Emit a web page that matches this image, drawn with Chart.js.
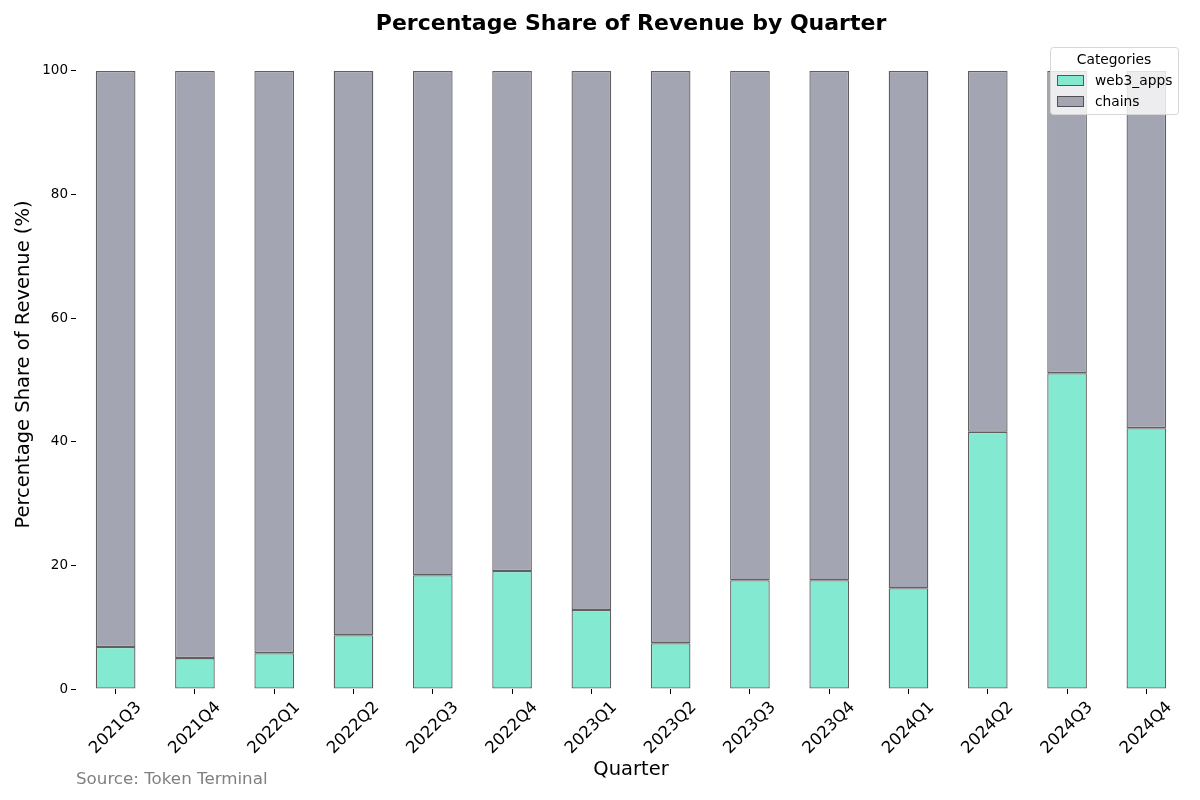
<!DOCTYPE html>
<html>
<head>
<meta charset="utf-8">
<script src="https://cdn.jsdelivr.net/npm/chart.js@4.4.1/dist/chart.umd.min.js"></script>
<style>
  html, body { margin: 0; padding: 0; background: #fff; }
  #wrap { width: 1200px; height: 800px; }
</style>
</head>
<body>
<div id="wrap"><canvas id="chart" width="1200" height="800"></canvas></div>
<script>
const quarters = ['2021Q3', '2021Q4', '2022Q1', '2022Q2', '2022Q3', '2022Q4', '2023Q1',
  '2023Q2', '2023Q3', '2023Q4', '2024Q1', '2024Q2', '2024Q3', '2024Q4'];
const web3Apps = [6.8, 5.0, 5.8, 8.7, 18.4, 19.1, 12.8, 7.4, 17.6, 17.6, 16.3, 41.6, 51.1, 42.2];
const chains = web3Apps.map(v => +(100 - v).toFixed(1)); // shares add up to 100
const yTicks = [0, 20, 40, 60, 80, 100];

const FONT = '"DejaVu Sans", sans-serif';
const GREEN = '#84e9d1';
const GREY = '#a3a5b2';
const EDGE = 'rgba(35,35,35,0.72)';

// title, x labels (centred on tick, matplotlib style) and source note
const texts = {
  id: 'texts',
  afterDraw(chart) {
    const { ctx, chartArea } = chart;
    const x = chart.scales.x;
    ctx.save();
    ctx.fillStyle = '#000';
    ctx.textAlign = 'center';
    ctx.textBaseline = 'middle';
    ctx.font = 'bold 22px ' + FONT;
    ctx.fillText('Percentage Share of Revenue by Quarter', (chartArea.left + chartArea.right) / 2, 24);

    ctx.font = '16.5px ' + FONT;
    quarters.forEach((q, i) => {
      ctx.save();
      ctx.translate(x.getPixelForTick(i), 728);
      ctx.rotate(-Math.PI / 4);
      ctx.fillText(q, 0, 0);
      ctx.restore();
    });

    ctx.fillStyle = '#808080';
    ctx.textAlign = 'left';
    ctx.font = '16.7px ' + FONT;
    ctx.fillText('Source: Token Terminal', 76, 780);
    ctx.restore();
  }
};

// legend box sitting over the bars, top right
const legendBox = {
  id: 'legendBox',
  afterDatasetsDraw(chart) {
    const { ctx } = chart;
    const bx = 1050, by = 47, bw = 128, bh = 67;
    ctx.save();
    ctx.fillStyle = 'rgba(255,255,255,0.8)';
    ctx.strokeStyle = '#d6d6d6';
    ctx.lineWidth = 1;
    ctx.beginPath();
    ctx.roundRect(bx + 0.5, by + 0.5, bw, bh, 3);
    ctx.fill();
    ctx.stroke();
    ctx.fillStyle = '#000';
    ctx.font = '13.8px ' + FONT;
    ctx.textAlign = 'center';
    ctx.textBaseline = 'middle';
    ctx.fillText('Categories', bx + bw / 2, by + 13);
    ctx.textAlign = 'left';
    chart.data.datasets.forEach((ds, i) => {
      const y = by + 34 + i * 21;
      ctx.fillStyle = ds.backgroundColor;
      ctx.fillRect(bx + 7.5, y - 5.5, 26, 10);
      ctx.strokeStyle = EDGE;
      ctx.strokeRect(bx + 7.5, y - 5.5, 26, 10);
      ctx.fillStyle = '#000';
      ctx.fillText(ds.label, bx + 45, y);
    });
    ctx.restore();
  }
};

new Chart(document.getElementById('chart'), {
  type: 'bar',
  data: {
    labels: quarters,
    datasets: [
      {
        label: 'web3_apps',
        data: web3Apps,
        backgroundColor: GREEN,
        borderColor: EDGE,
        borderWidth: 1.3,
        borderSkipped: false,
        categoryPercentage: 1,
        barPercentage: 0.5
      },
      {
        label: 'chains',
        data: chains,
        backgroundColor: GREY,
        borderColor: EDGE,
        borderWidth: 1.3,
        borderSkipped: false,
        categoryPercentage: 1,
        barPercentage: 0.5
      }
    ]
  },
  options: {
    responsive: false,
    animation: false,
    layout: { padding: { left: 0, right: 14, top: 40, bottom: 0 } },
    scales: {
      x: {
        stacked: true,
        grid: { display: true, offset: false, drawOnChartArea: false, drawTicks: true, tickLength: 5, color: '#000' },
        border: { display: false },
        ticks: { display: false },
        title: {
          display: true,
          text: 'Quarter',
          color: '#000',
          font: { family: FONT, size: 19.5 },
          padding: { top: 0, bottom: 18 }
        },
        afterFit(scale) { scale.height = 111; }
      },
      y: {
        stacked: true,
        min: 0,
        max: 105,
        afterBuildTicks(scale) { scale.ticks = yTicks.map(v => ({ value: v })); },
        grid: { display: true, drawOnChartArea: false, drawTicks: true, tickLength: 5, color: '#000' },
        border: { display: false },
        ticks: { color: '#000', font: { family: FONT, size: 13.5 }, padding: 3 },
        title: {
          display: true,
          text: 'Percentage Share of Revenue (%)',
          color: '#000',
          font: { family: FONT, size: 19.5 },
          padding: { top: 12, bottom: 0 }
        },
        afterFit(scale) { scale.width = 76; }
      }
    },
    plugins: {
      legend: { display: false },
      tooltip: { enabled: false },
      title: { display: false }
    }
  },
  plugins: [texts, legendBox]
});
</script>
</body>
</html>
